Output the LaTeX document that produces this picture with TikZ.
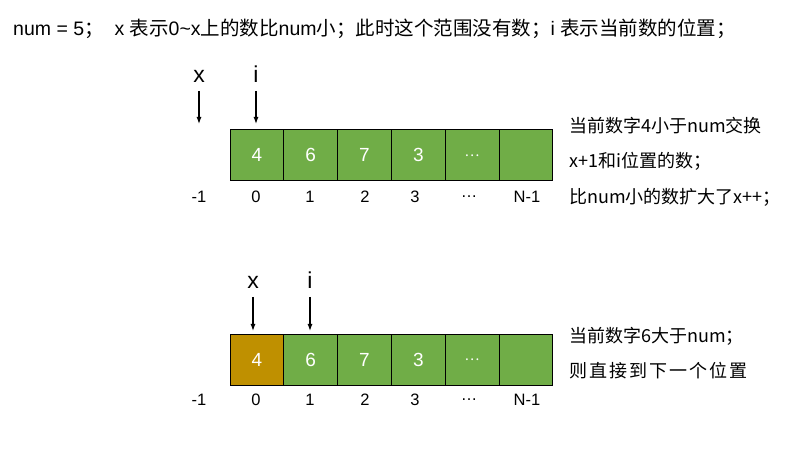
\documentclass[tikz,border=0pt]{standalone}
\usepackage{fontspec}
\setmainfont{Liberation Sans}
\newfontfamily\cjk{Noto Sans CJK SC}
\usetikzlibrary{arrows.meta}
\definecolor{cellgreen}{HTML}{70AD47}
\definecolor{cellgold}{HTML}{BF9000}
\tikzset{
  cell/.style={draw=black, line width=0.8bp, fill=cellgreen, minimum width=53.8bp, minimum height=51bp, inner sep=0pt, text=white, font=\fontsize{19bp}{21bp}\selectfont},
  goldcell/.style={cell, fill=cellgold},
  idx/.style={inner sep=0pt, font=\fontsize{16.5bp}{18bp}\selectfont},
  ptr/.style={inner sep=0pt, font=\fontsize{23bp}{25bp}\selectfont},
  arr/.style={line width=1.2bp, -{Latex[length=7bp,width=5bp]}},
  note/.style={inner sep=0pt, anchor=west, font=\cjk\fontsize{18bp}{20bp}\selectfont},
  title/.style={inner sep=0pt, anchor=west, font=\fontsize{19.5bp}{21bp}\selectfont}
}
\begin{document}
\begin{tikzpicture}[x=1bp,y=-1bp]
\useasboundingbox[fill=white] (0,0) rectangle (800,450);
\node[title] (t) at (13,29) {num = 5{\cjk ；}\ \ x {\cjk 表示}0\textasciitilde x{\cjk 上的数比}num{\cjk 小；此时这个范围没有数；}i {\cjk 表示当前数的位置；}};
% top array
\foreach \v [count=\k from 0] in {4,6,7,3,{\cjk\fontsize{14bp}{16bp}\selectfont …},{}} {
  \node[cell] (a\k) at (256.9+53.8*\k,155.4) {\v};
}
\foreach \l/\px [count=\k] in {-1/199,0/256,1/310,2/365,3/415,\ldots/469,N-1/527} {
  \node[idx] (ia\k) at (\px,197) {\l};
}
\node[ptr] (xa) at (199,76) {x};
\node[ptr] (pa) at (256,74) {i};
\coordinate (xa1) at (199,91); \coordinate (xa2) at (199,124);
\coordinate (pa1) at (256,91); \coordinate (pa2) at (256,124);
\draw[arr] (xa1) -- (xa2);
\draw[arr] (pa1) -- (pa2);
\node[note] (n1) at (569,126) {当前数字4小于num交换};
\node[note] (n2) at (569,161) {x+1和i位置的数；};
\node[note] (n3) at (569,197) {比num小的数扩大了x++；};
% bottom array
\foreach \v [count=\k from 0] in {4,6,7,3,{\cjk\fontsize{14bp}{16bp}\selectfont …},{}} {
  \ifnum\k=0
    \node[goldcell] (b\k) at (256.9+53.8*\k,359.7) {\v};
  \else
    \node[cell] (b\k) at (256.9+53.8*\k,359.7) {\v};
  \fi
}
\foreach \l/\px [count=\k] in {-1/199,0/256,1/310,2/365,3/415,\ldots/469,N-1/527} {
  \node[idx] (ib\k) at (\px,400) {\l};
}
\node[ptr] (xb) at (253,282) {x};
\node[ptr] (pb) at (310,280) {i};
\coordinate (xb1) at (253,297); \coordinate (xb2) at (253,331);
\coordinate (pb1) at (310,297); \coordinate (pb2) at (310,331);
\draw[arr] (xb1) -- (xb2);
\draw[arr] (pb1) -- (pb2);
\node[note] (m1) at (569,336) {当前数字6大于num；};
\node[note] (m2) at (569,371) {\makebox[178bp][l]{则\hfill 直\hfill 接\hfill 到\hfill 下\hfill 一\hfill 个\hfill 位\hfill 置}};
\end{tikzpicture}
\end{document}
